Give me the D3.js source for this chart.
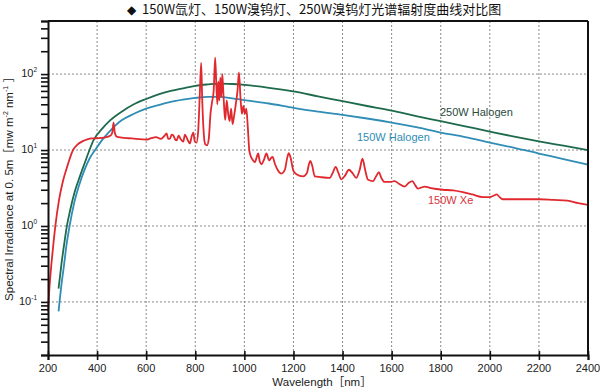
<!DOCTYPE html>
<html>
<head>
<meta charset="utf-8">
<script src="https://cdn.jsdelivr.net/npm/d3@7"></script>
<style>
  body { margin: 0; background: #fff; }
  text { font-family: "Liberation Sans", Arial, sans-serif; }
  .grid line { stroke: #8a8a8a; stroke-dasharray: 2,2; stroke-width: 1; }
</style>
</head>
<body>
<div id="okvir"></div>
<script>
// podatci
const titleText = "150W氙灯、150W溴钨灯、250W溴钨灯光谱辐射度曲线对比图";
const xTicks = [200, 400, 600, 800, 1000, 1200, 1400, 1600, 1800, 2000, 2200, 2400];
const yDecades = [0.1, 1, 10, 100];
const yExponents = ["-1", "0", "1", "2"];

const wlHal250 = [243, 255, 265, 277, 290, 310, 330, 350, 369, 385, 420, 453, 500, 550, 600, 650, 700, 750, 800, 850, 900, 950, 1000, 1100, 1200, 1300, 1400, 1500, 1600, 1700, 1800, 1900, 2000, 2100, 2200, 2300, 2400];
const valHal250 = [0.15, 0.32, 0.55, 1.0, 1.6, 2.9, 4.5, 6.8, 10, 13.4, 19, 24.6, 32, 40, 47, 54, 60, 65, 70, 73, 75, 74, 72, 66, 59, 51, 44, 38, 33, 28, 24, 20.5, 17.5, 15, 13, 11.4, 10];

const wlHal150 = [243, 255, 265, 275, 288, 305, 325, 350, 370, 392, 420, 450, 500, 550, 600, 650, 700, 750, 800, 850, 900, 950, 1000, 1100, 1200, 1300, 1400, 1500, 1600, 1700, 1800, 1900, 2000, 2100, 2200, 2300, 2400];
const valHal150 = [0.075, 0.17, 0.3, 0.55, 1.0, 1.9, 3.3, 5.6, 7.8, 10, 13.5, 17.5, 24.6, 30, 35, 39, 43, 46, 48.5, 50, 50, 48, 45.5, 41, 36, 32, 29, 26, 23, 20, 17, 14.8, 12.5, 10.7, 9.0, 7.6, 6.4];

const wlXe = [200, 205, 212, 220, 230, 245, 260, 280, 302, 320, 340, 360, 380, 400, 430, 455, 462, 467, 472, 480,
  500, 530, 560, 600, 620, 640, 660, 675, 683, 690, 697, 704, 711, 718, 724, 732, 740, 751, 758, 765,
  772, 778, 785, 792, 798, 805, 812, 818, 824, 828, 833, 840, 848, 855, 862, 868, 875, 881, 886, 890,
  894, 898, 902, 906, 910, 914, 918, 922, 928, 934, 940, 946, 952, 958, 965, 972, 978, 984, 990, 996,
  1002, 1008, 1014, 1020, 1026, 1033, 1043, 1050, 1056, 1063, 1070, 1080, 1090, 1101, 1108, 1115, 1125, 1140, 1151, 1165,
  1175, 1181, 1188, 1200, 1212, 1239, 1255, 1263, 1269, 1276, 1287, 1310, 1348, 1360, 1372, 1383, 1395, 1410, 1426, 1440,
  1456, 1470, 1481, 1492, 1503, 1524, 1538, 1548, 1558, 1571, 1595, 1612, 1630, 1653, 1670, 1684, 1697, 1707, 1720, 1734,
  1760, 1809, 1850, 1890, 1930, 1971, 2000, 2015, 2028, 2040, 2052, 2100, 2201, 2260, 2316, 2360, 2400];
const valXe = [0.075, 0.14, 0.27, 0.5, 1.0, 2.2, 3.8, 6.3, 10, 11.8, 13, 13.8, 14.2, 14.3, 14.6, 15.5, 17, 23, 17, 15,
  14.6, 14.3, 14, 13.7, 14.3, 14.8, 14, 15.5, 16.5, 14, 14.1, 16, 15.5, 13.8, 13.4, 15.5, 14, 12.9, 16, 14.5,
  13, 12.2, 15, 17, 13, 12.5, 18, 50, 140, 50, 20, 12, 11.5, 14, 30, 42, 60, 165, 70, 40,
  80, 45, 90, 50, 100, 60, 35, 25, 45, 30, 24, 35, 22, 28, 40, 60, 105, 50, 30, 38,
  30, 35, 20, 10, 8.3, 7.5, 6.9, 8, 9, 7, 6.5, 7.5, 9, 7.3, 7.8, 8.1, 6.5, 5.2, 4.9, 5.5,
  8, 9.1, 8, 5.3, 4.8, 4.5, 5, 6.5, 7.2, 6.3, 4.5, 4.4, 4.3, 5, 6, 5, 4.1, 4.6, 5.5, 5,
  4.3, 5.5, 7.7, 5.5, 4.1, 3.9, 4.6, 5.1, 4.3, 3.8, 3.8, 3.9, 3.6, 3.3, 3.7, 3.9, 3.4, 3.1, 3.2, 3.3,
  3.15, 3.0, 2.95, 2.8, 2.6, 2.4, 2.4, 2.5, 2.6, 2.4, 2.25, 2.25, 2.25, 2.2, 2.15, 2.0, 1.9];

const serije = [
  { ime: "250W Halogen", wl: wlHal250, val: valHal250, boja: "#1d6a4c" },
  { ime: "150W Halogen", wl: wlHal150, val: valHal150, boja: "#2f8db6" },
  { ime: "150W Xe", wl: wlXe, val: valXe, boja: "#e0282e" }
];

// dimenzije
const dimenzije = {
  width: 600,
  height: 389,
  margin: { top: 21, right: 12, bottom: 34, left: 48 }
};
dimenzije.boundsWidth = dimenzije.width - dimenzije.margin.left - dimenzije.margin.right;
dimenzije.boundsHeight = dimenzije.height - dimenzije.margin.top - dimenzije.margin.bottom;

const okvir = d3.select("#okvir").append("svg")
  .attr("width", dimenzije.width)
  .attr("height", dimenzije.height);

okvir.append("rect").attr("width", dimenzije.width).attr("height", dimenzije.height).attr("fill", "#fff");

const granice = okvir.append("g")
  .attr("transform", `translate(${dimenzije.margin.left},${dimenzije.margin.top})`);

const xMjerilo = d3.scaleLinear()
  .domain([200, 2400])
  .range([0, dimenzije.boundsWidth]);

const yMjerilo = d3.scaleLog()
  .domain([0.02, 500])
  .range([dimenzije.boundsHeight, 0]);

// mreza
const mreza = granice.append("g").attr("class", "grid");
mreza.selectAll(".gx").data(xTicks.slice(1, -1)).join("line")
  .attr("x1", d => xMjerilo(d)).attr("x2", d => xMjerilo(d))
  .attr("y1", 0).attr("y2", dimenzije.boundsHeight);
mreza.selectAll(".gy").data(yDecades).join("line")
  .attr("x1", 0).attr("x2", dimenzije.boundsWidth)
  .attr("y1", d => yMjerilo(d)).attr("y2", d => yMjerilo(d));

// linije
const generatorLinije = d3.line()
  .x(d => xMjerilo(d[0]))
  .y(d => yMjerilo(d[1]))
  .curve(d3.curveMonotoneX);

serije.forEach(s => {
  const tocke = s.wl.map((w, i) => [w, s.val[i]]);
  granice.append("path")
    .attr("d", generatorLinije(tocke))
    .attr("fill", "none")
    .attr("stroke", s.boja)
    .attr("stroke-width", 1.8)
    .attr("stroke-linejoin", "round");
});

// osi
const minorTicks = [];
[0.01, 0.1, 1, 10, 100].forEach(dec => {
  for (let k = 1; k <= 9; k++) {
    const v = dec * k;
    if (v >= 0.02 && v <= 500) minorTicks.push(v);
  }
});

const yOs = granice.append("g")
  .call(d3.axisLeft(yMjerilo).tickValues(minorTicks).tickSize(7).tickFormat(""));
yOs.select(".domain").attr("stroke", "#111").attr("stroke-width", 2);
yOs.selectAll(".tick line").attr("stroke", "#111").attr("stroke-width", 1.6);

const xOs = granice.append("g")
  .attr("transform", `translate(0,${dimenzije.boundsHeight})`)
  .call(d3.axisBottom(xMjerilo).tickValues(xTicks).tickSize(5).tickFormat(""));
xOs.select(".domain").attr("stroke", "#111").attr("stroke-width", 2);
xOs.selectAll(".tick line").attr("y1", -4).attr("stroke", "#111").attr("stroke-width", 1.6);

// okvir gore i desno
granice.append("line")
  .attr("x1", 0).attr("x2", dimenzije.boundsWidth).attr("y1", 0).attr("y2", 0)
  .attr("stroke", "#111").attr("stroke-width", 2);
granice.append("line")
  .attr("x1", dimenzije.boundsWidth).attr("x2", dimenzije.boundsWidth)
  .attr("y1", 0).attr("y2", dimenzije.boundsHeight)
  .attr("stroke", "#111").attr("stroke-width", 2);

// oznake x
granice.selectAll(".xlab").data(xTicks).join("text")
  .attr("x", d => xMjerilo(d))
  .attr("y", dimenzije.boundsHeight + 17)
  .attr("text-anchor", "middle")
  .attr("font-size", 11)
  .attr("fill", "#222")
  .text(d => d);

// oznake y
const yLab = granice.selectAll(".ylab").data(yDecades).join("text")
  .attr("x", -11)
  .attr("y", d => yMjerilo(d) + 3)
  .attr("text-anchor", "end")
  .attr("font-size", 11)
  .attr("fill", "#222");
yLab.append("tspan").text("10");
yLab.append("tspan")
  .attr("font-size", 6.5)
  .attr("dy", -5)
  .text((d, i) => yExponents[i]);

// naslovi osi
okvir.append("text")
  .attr("x", dimenzije.margin.left + dimenzije.boundsWidth / 2 + 4)
  .attr("y", 386)
  .attr("text-anchor", "middle")
  .attr("font-size", 11.5)
  .attr("fill", "#222")
  .html('Wavelength<tspan font-family="Noto Sans CJK SC">［</tspan>nm<tspan font-family="Noto Sans CJK SC">］</tspan>');

okvir.append("text")
  .attr("transform", "translate(13,186) rotate(-90)")
  .attr("text-anchor", "middle")
  .attr("font-size", 11.5)
  .attr("fill", "#222")
  .html('Spectral Irradiance at 0. 5m<tspan font-family="Noto Sans CJK SC">［</tspan>mw m<tspan font-size="7" dy="-5">-2</tspan><tspan dy="5"> nm</tspan><tspan font-size="7" dy="-5">-1</tspan><tspan dy="5"> </tspan><tspan font-family="Noto Sans CJK SC">］</tspan>');

// naslov
okvir.append("text")
  .attr("x", 127)
  .attr("y", 14)
  .attr("font-size", 13)
  .attr("fill", "#111")
  .html('<tspan font-size="12">◆</tspan><tspan dx="6" font-family="Noto Sans CJK SC, sans-serif">' + titleText + '</tspan>');

// oznake serija
const oznake = [
  { t: "250W Halogen", x: 440, y: 116, c: "#2a4a3e" },
  { t: "150W Halogen", x: 357, y: 141, c: "#2f8db6" },
  { t: "150W Xe", x: 428, y: 204, c: "#d8323a" }
];
okvir.selectAll(".ozn").data(oznake).join("text")
  .attr("x", d => d.x).attr("y", d => d.y)
  .attr("font-size", 11)
  .attr("fill", d => d.c)
  .text(d => d.t);
</script>
</body>
</html>
